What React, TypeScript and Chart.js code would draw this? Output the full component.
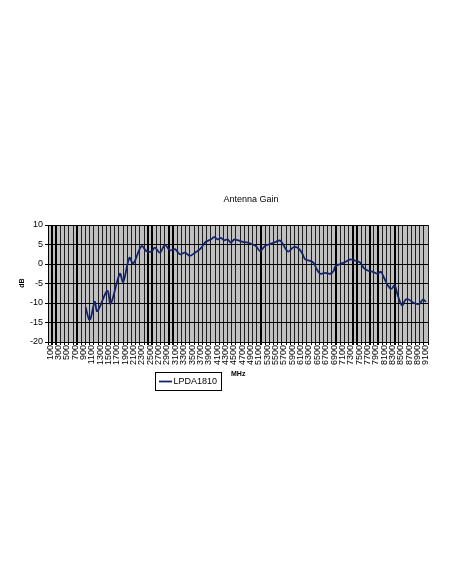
import { useEffect, useRef } from 'react';
import { Chart, registerables } from 'chart.js';

Chart.register(...registerables);

// Frequency (MHz) of each read point and the measured gain (dB)
const FREQ_MHZ = [
  950, 1030, 1070, 1170, 1230, 1470, 1550, 1770, 1850, 2000,
  2090, 2290, 2410, 2530, 2610, 2730, 2850, 2970, 3090, 3210,
  3330, 3450, 3570, 3690, 3830, 3950, 4030, 4110, 4190, 4270,
  4350, 4430, 4510, 4590, 4710, 4830, 4950, 5030, 5130, 5250,
  5370, 5490, 5610, 5690, 5800, 5930, 6020, 6130, 6210, 6330,
  6410, 6490, 6570, 6690, 6810, 6890, 6930, 7050, 7170, 7290,
  7400, 7520, 7630, 7730, 7830, 7940, 8020, 8100, 8190, 8270,
  8350, 8430, 8530, 8610, 8690, 8790, 8870, 8950, 9030, 9100,
];
const GAIN_DB = [
  -11.0, -14.2, -14.0, -9.7, -12.1, -6.9, -10.2, -2.5, -4.6, 1.6,
  0.1, 4.6, 3.3, 3.2, 4.2, 2.9, 4.9, 3.5, 3.8, 2.5,
  2.9, 2.1, 2.9, 3.8, 5.7, 6.3, 6.9, 6.3, 6.7, 6.1,
  6.3, 5.5, 6.3, 6.1, 5.7, 5.5, 5.0, 4.6, 3.3, 4.7,
  5.1, 5.6, 6.0, 4.8, 3.2, 4.3, 4.2, 2.9, 1.2, 0.8,
  0.3, -1.4, -2.5, -2.3, -2.5, -1.8, -0.6, 0.0, 0.5, 1.2,
  0.9, 0.4, -1.2, -1.8, -2.0, -2.5, -2.0, -3.6, -5.5, -6.4,
  -5.5, -8.2, -10.6, -9.2, -9.1, -9.9, -10.2, -10.2, -9.1, -9.7,
];

// Category axis labels (every other 100 MHz category is labelled)
const X_LABELS = [
  100, 300, 500, 700, 900, 1100, 1300, 1500, 1700, 1900,
  2100, 2300, 2500, 2700, 2900, 3100, 3300, 3500, 3700, 3900,
  4100, 4300, 4500, 4700, 4900, 5100, 5300, 5500, 5700, 5900,
  6100, 6300, 6500, 6700, 6900, 7100, 7300, 7500, 7700, 7900,
  8100, 8300, 8500, 8700, 8900, 9100,
];
const CATEGORY_STEP = 100;
const Y_MIN = -20;
const Y_MAX = 10;
const Y_STEP = 5;

const TITLE = 'Antenna Gain';
const SERIES_NAME = 'LPDA1810';
const X_TITLE = 'MHz';
const Y_TITLE = 'dB';

// grid lines that look heavier in the reference
const HEAVY_GRID = [1, 2, 7, 24, 25, 29, 30, 51, 69, 73, 74, 77, 79, 83];

export default function App() {
  const ref = useRef<HTMLCanvasElement>(null);

  useEffect(() => {
    document.body.style.margin = '0';
    const canvas = ref.current;
    if (!canvas) return;
    const FONT = "'Liberation Sans', Arial, sans-serif";
    const LINE = '#14236b';

    const tickValues: number[] = [];
    X_LABELS.forEach((l, i) => {
      tickValues.push(l);
      if (i < X_LABELS.length - 1) tickValues.push(l + CATEGORY_STEP);
    });
    const labelSet = new Set(X_LABELS);
    const heavy = new Set(HEAVY_GRID);

    const plotBg = {
      id: 'plotBg',
      beforeDraw(chart: any) {
        const { ctx, chartArea: a } = chart;
        ctx.save();
        ctx.fillStyle = '#c0c0c0';
        ctx.fillRect(a.left, a.top, a.right - a.left, a.bottom - a.top);
        ctx.restore();
      },
    };

    const texts = {
      id: 'texts',
      afterDraw(chart: any) {
        const { ctx } = chart;
        ctx.save();
        ctx.fillStyle = '#000';
        // title
        ctx.font = `9px ${FONT}`;
        ctx.textAlign = 'center';
        ctx.textBaseline = 'middle';
        ctx.fillText(TITLE, 251, 200);
        // y axis title
        ctx.save();
        ctx.translate(22, 283);
        ctx.rotate(-Math.PI / 2);
        ctx.font = `bold 7px ${FONT}`;
        ctx.fillText(Y_TITLE, 0, 0);
        ctx.restore();
        // x axis title
        ctx.font = `bold 7px ${FONT}`;
        ctx.textAlign = 'left';
        ctx.fillText(X_TITLE, 231, 374);
        // legend
        ctx.strokeStyle = '#000';
        ctx.lineWidth = 1;
        ctx.strokeRect(155.5, 372.5, 66, 18);
        ctx.strokeStyle = LINE;
        ctx.lineWidth = 1.8;
        ctx.beginPath();
        ctx.moveTo(159, 381.5);
        ctx.lineTo(172, 381.5);
        ctx.stroke();
        ctx.font = `9px ${FONT}`;
        ctx.textAlign = 'left';
        ctx.fillText(SERIES_NAME, 173.5, 382);
        ctx.restore();
      },
    };

    const chart = new Chart(canvas, {
      type: 'line',
      data: {
        datasets: [
          {
            label: SERIES_NAME,
            data: FREQ_MHZ.map((f, i) => ({ x: f, y: GAIN_DB[i] })),
            borderColor: LINE,
            borderWidth: 1.8,
            pointRadius: 0,
            fill: false,
            tension: 0.35,
          },
        ],
      },
      options: {
        animation: false,
        responsive: false,
        events: [],
        layout: { padding: { left: 10, right: 24, top: 225, bottom: 202 } },
        plugins: {
          legend: { display: false },
          title: { display: false },
          tooltip: { enabled: false },
        },
        scales: {
          x: {
            type: 'linear',
            position: 'bottom',
            min: X_LABELS[0] - CATEGORY_STEP / 2,
            max: X_LABELS[X_LABELS.length - 1] + CATEGORY_STEP / 2,
            afterBuildTicks: (scale: any) => {
              scale.ticks = tickValues.map((v) => ({ value: v }));
            },
            afterFit: (scale: any) => {
              scale.height = 40;
              scale.paddingLeft = 0;
              scale.paddingRight = 0;
            },
            grid: {
              offset: true,
              color: (c: any) => (heavy.has(c.index) ? '#000' : '#1e1e1e'),
              lineWidth: (c: any) => (heavy.has(c.index) ? 2 : 1),
              tickLength: 3,
              tickColor: '#000',
              drawTicks: true,
            },
            border: { display: true, color: '#000', width: 1 },
            ticks: {
              autoSkip: false,
              minRotation: 90,
              maxRotation: 90,
              padding: 0,
              color: '#000',
              font: { family: FONT, size: 9 },
              callback: (v: any) => (labelSet.has(Number(v)) ? String(v) : ''),
            },
          },
          y: {
            type: 'linear',
            position: 'left',
            min: Y_MIN,
            max: Y_MAX,
            afterFit: (scale: any) => {
              scale.width = 38;
            },
            grid: {
              color: '#000',
              lineWidth: 1,
              tickLength: 3,
              tickColor: '#000',
            },
            border: { display: true, color: '#000', width: 1 },
            ticks: {
              stepSize: Y_STEP,
              padding: 2,
              color: '#000',
              font: { family: FONT, size: 9 },
            },
          },
        },
      },
      plugins: [plotBg, texts],
    } as any);

    return () => chart.destroy();
  }, []);

  return (
    <canvas
      ref={ref}
      width={452}
      height={584}
      style={{ display: 'block', width: 452, height: 584 }}
    />
  );
}
